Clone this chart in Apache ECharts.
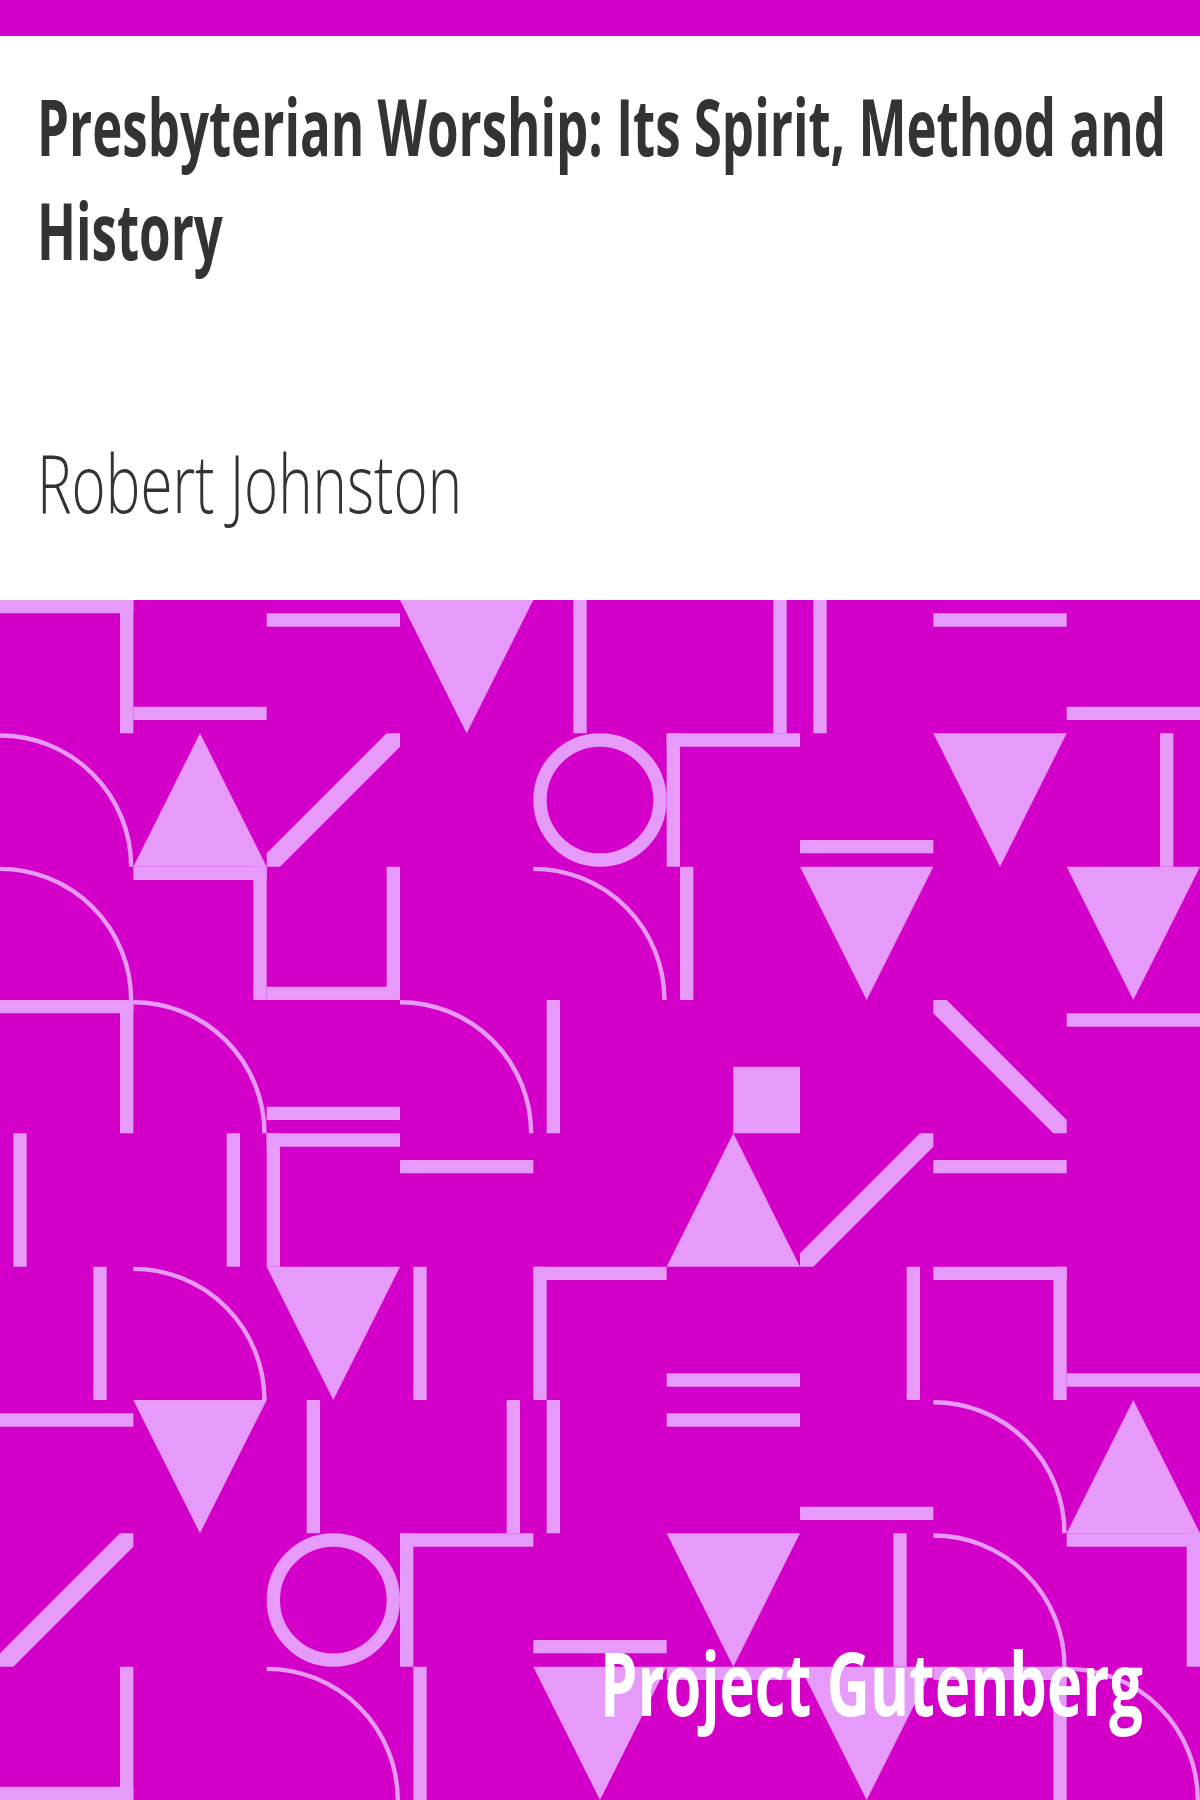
<!DOCTYPE html>
<html>
<head>
<meta charset="utf-8">
<style>
  html, body { margin: 0; padding: 0; background: #fff; }
  #main { width: 1200px; height: 1800px; }
</style>
<script src="https://cdn.jsdelivr.net/npm/echarts@6/dist/echarts.min.js"></script>
</head>
<body>
<div id="main"></div>
<script>
var titleLines = ['Presbyterian Worship: Its Spirit, Method and', 'History'];
var authorName = 'Robert Johnston';
var publisher = 'Project Gutenberg';

// one array per row of the 9x9 tile pattern, '' = empty tile
// TR/TL/BR/T0 edge frames, Hn horizontal bar at n/10, Vn vertical bar at n/10,
// TU/TD triangles, RG ring, AR quarter arc, DF '/' DB '\' diagonals, SQ quarter square
var row0 = ['TR', 'H8', 'H1', 'TD', 'V3', 'V8', 'V1', 'H1', 'H8'];
var row1 = ['AR', 'TU', 'DF', '',   'RG', 'TL', 'H8', 'TD', 'V7'];
var row2 = ['AR', 'TR', 'BR', '',   'AR', 'V1', 'TD', '',   'TD'];
var row3 = ['TR', 'AR', 'H8', 'AR', 'V1', 'SQ', '',   'DB', 'H1'];
var row4 = ['V1', 'V7', 'TL', 'H2', '',   'TU', 'DF', 'H2', ''];
var row5 = ['V7', 'AR', 'TD', 'V1', 'TL', 'H8', 'V8', 'TR', 'H8'];
var row6 = ['H1', 'TD', 'V3', 'V8', 'V1', 'H1', 'H8', 'AR', 'TU'];
var row7 = ['DF', '',   'RG', 'TL', 'H8', 'TD', 'V7', 'AR', 'TR'];
var row8 = ['BR', '',   'AR', 'V1', 'TD', 'T0', 'TD', 'TR', 'AR'];
var patternRows = [row0, row1, row2, row3, row4, row5, row6, row7, row8];

var BG = '#d400c9';
var LIGHT = '#e69bfa';
var INK = '#333333';

var tiles = [];
patternRows.forEach(function (r, ry) {
  r.forEach(function (code, cx) {
    if (code) tiles.push([cx, ry, code]);
  });
});

function renderTile(params, api) {
  var p = api.coord([api.value(0), api.value(1)]);
  var s = api.size([1, 1])[0];
  var t = s / 10;
  var x = p[0], y = p[1];
  var code = tiles[params.dataIndex][2];
  var kids = [];
  var fill = { fill: LIGHT };
  function bar(bx, by, bw, bh) {
    kids.push({ type: 'rect', shape: { x: x + bx, y: y + by, width: bw, height: bh }, style: fill });
  }
  function poly(pts) {
    kids.push({ type: 'polygon', shape: { points: pts.map(function (q) { return [x + q[0], y + q[1]]; }) }, style: fill });
  }
  var n = parseInt(code.slice(1), 10);
  switch (code) {
    case 'TR': bar(0, 0, s, t); bar(s - t, 0, t, s); break;
    case 'TL': bar(0, 0, s, t); bar(0, 0, t, s); break;
    case 'BR': bar(0, s - t, s, t); bar(s - t, 0, t, s); break;
    case 'T0': bar(0, 0, s, t); break;
    case 'TU': poly([[0, s], [s, s], [s / 2, 0]]); break;
    case 'TD': poly([[0, 0], [s, 0], [s / 2, s]]); break;
    case 'DF': poly([[s - t, 0], [s, 0], [s, t], [t, s], [0, s], [0, s - t]]); break;
    case 'DB': poly([[0, 0], [t, 0], [s, s - t], [s, s], [s - t, s], [0, t]]); break;
    case 'SQ': bar(s / 2, s / 2, s / 2, s / 2); break;
    case 'RG':
      kids.push({ type: 'circle', shape: { cx: x + s / 2, cy: y + s / 2, r: s / 2 - t / 2 },
        style: { fill: null, stroke: LIGHT, lineWidth: t } });
      break;
    case 'AR':
      kids.push({ type: 'arc', shape: { cx: x, cy: y + s, r: s - 2.2, startAngle: -Math.PI / 2, endAngle: 0, clockwise: true },
        style: { fill: null, stroke: LIGHT, lineWidth: 4.4 } });
      break;
    default:
      if (code.charAt(0) === 'H') bar(0, n * t, s, t);
      else if (code.charAt(0) === 'V') bar(n * t, 0, t, s);
  }
  return { type: 'group', children: kids };
}

// squeeze the installed sans into a condensed face of the right width
var measure = document.createElement('canvas').getContext('2d');
function squeeze(text, font, target) {
  measure.font = font;
  return target / measure.measureText(text).width;
}
var TITLE_F = 78, AUTHOR_F = 82, PUB_F = 88;
var titleScale = squeeze(titleLines[0], 'bold ' + TITLE_F + 'px "Open Sans"', 1129);
var authorScale = squeeze(authorName, '300 ' + AUTHOR_F + 'px "Open Sans"', 425);
var pubScale = squeeze(publisher, 'bold ' + PUB_F + 'px "Open Sans"', 543);

function label(text, px, py, size, weight, color, sx) {
  return {
    type: 'text', x: px, y: py, scaleX: sx, z: 100,
    style: {
      text: text, fill: color, fontFamily: 'Open Sans', fontSize: size, fontWeight: weight,
      align: 'left', verticalAlign: 'middle'
    }
  };
}

var chart = echarts.init(document.getElementById('main'), null, { renderer: 'canvas' });
chart.setOption({
  animation: false,
  backgroundColor: '#ffffff',
  grid: { left: 0, top: 600, width: 1200, height: 1200, show: true, backgroundColor: BG, borderWidth: 0 },
  xAxis: { type: 'value', min: 0, max: 9, show: false },
  yAxis: { type: 'value', min: 0, max: 9, inverse: true, show: false },
  series: [{
    type: 'custom',
    renderItem: renderTile,
    data: tiles.map(function (d) { return [d[0], d[1]]; }),
    silent: true
  }],
  graphic: [
    { type: 'rect', shape: { x: 0, y: 0, width: 1200, height: 36 }, style: { fill: BG } },
    label(titleLines[0], 37, 157 - 0.3 * TITLE_F, TITLE_F, 'bold', INK, titleScale),
    label(titleLines[1], 37, 261 - 0.3 * TITLE_F, TITLE_F, 'bold', INK, titleScale),
    label(authorName, 37, 514 - 0.3 * AUTHOR_F, AUTHOR_F, 300, INK, authorScale),
    label(publisher, 600, 1717 - 0.3 * PUB_F, PUB_F, 'bold', '#ffffff', pubScale)
  ]
});
</script>
</body>
</html>
